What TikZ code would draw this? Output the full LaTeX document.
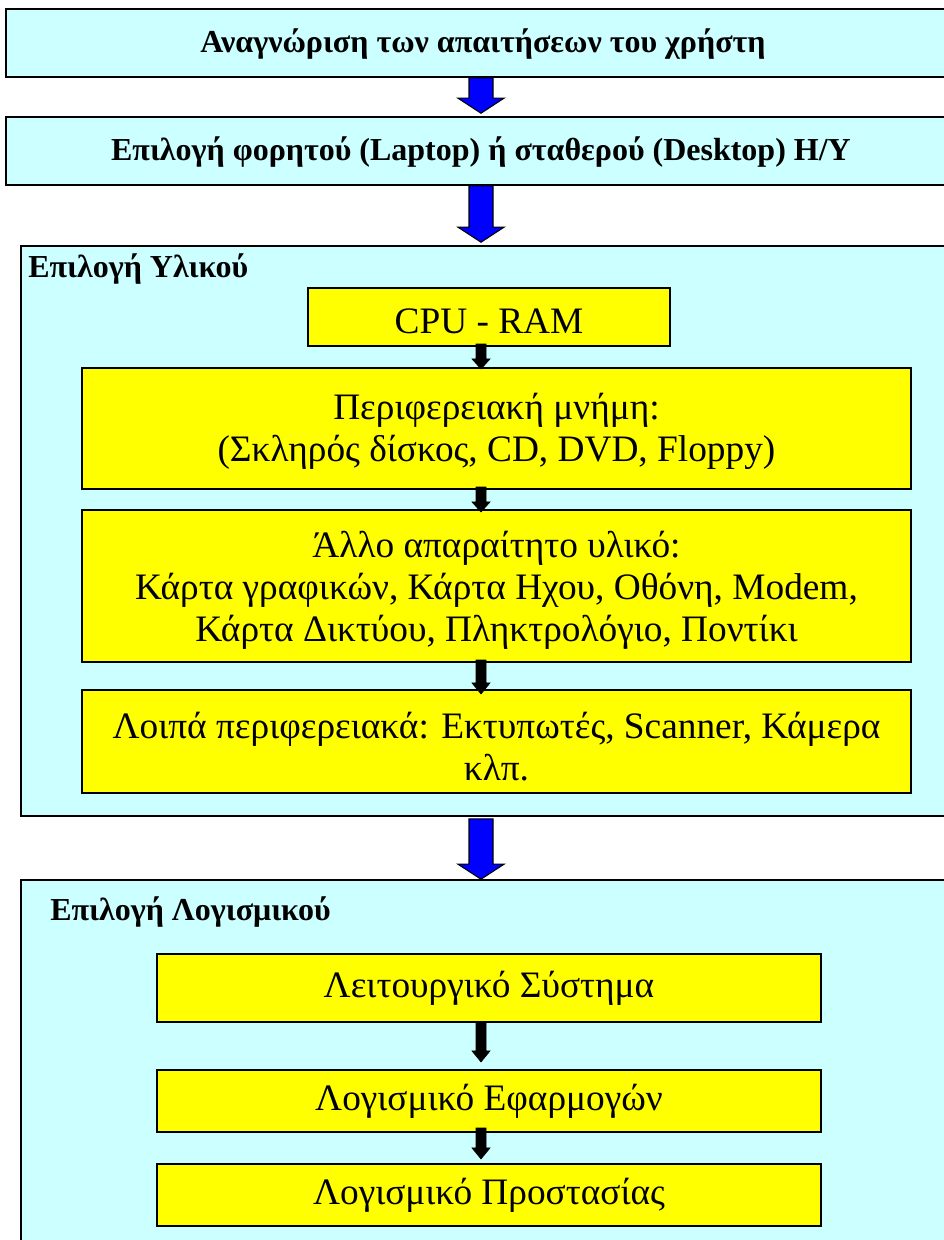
\documentclass[tikz,border=0pt]{standalone}
\usepackage{fontspec}
\setmainfont{Liberation Serif}
\usetikzlibrary{calc,fit}
\definecolor{lcyan}{HTML}{CCFFFF}
\definecolor{yel}{HTML}{FFFF00}
\newcommand\blockarr[8]{%
 \path[#1] ($(ax|-#2.south)+(-#4,#7)$) -- ($(ax|-#3.north)+(-#4,#8-#6)$) -- ($(ax|-#3.north)+(-#5,#8-#6)$) -- ($(ax|-#3.north)+(0,#8)$) -- ($(ax|-#3.north)+(#5,#8-#6)$) -- ($(ax|-#3.north)+(#4,#8-#6)$) -- ($(ax|-#2.south)+(#4,#7)$) -- cycle;}
\begin{document}
\begin{tikzpicture}[x=0.75pt,y=-0.75pt,
  outer/.style={draw=black,fill=lcyan,line width=1.2pt,inner sep=0pt},
  inner/.style={draw=black,fill=yel,line width=1.6pt,inner sep=0pt},
  btxt/.style={inner sep=0pt,font=\bfseries\fontsize{24}{28}\selectfont},
  ytxt/.style={inner sep=0pt,align=center,font=\fontsize{28}{31.5}\selectfont},
  hdr/.style={anchor=base west,inner sep=0pt,font=\bfseries\fontsize{24}{28}\selectfont},
  bluearr/.style={fill=blue,draw=black,line width=0.8pt},
  blackarr/.style={fill=black,draw=black,line width=0.5pt}]
\useasboundingbox (0,0) rectangle (944,1240);
\fill[white] (0,0) rectangle (944,1240);
\coordinate (ax) at (481,0);
\node[outer,fit={(6,9) (960,77)}] (b1) {};
\node[outer,fit={(6,117) (960,185)}] (b2) {};
\node[outer,fit={(21,246) (960,816)}] (hw) {};
\node[outer,fit={(21,880) (960,1260)}] (sw) {};
\node[btxt] (b1t) at (483,44) {Αναγνώριση των απαιτήσεων του χρήστη};
\node[btxt] (b2t) at (481,152) {Επιλογή φορητού (Laptop) ή σταθερού (Desktop) H/Y};
\node[hdr] (hwl) at (28,277) {Επιλογή Υλικού};
\node[hdr] (swl) at (50,920) {Επιλογή Λογισμικού};
\node[inner,fit={(308,288) (670,346)}] (cpu) {};
\node[inner,fit={(82,368) (911,489)}] (mem) {};
\node[inner,fit={(82,510) (911,662)}] (oth) {};
\node[inner,fit={(82,690) (911,793)}] (per) {};
\node[inner,fit={(157,954) (821,1022)}] (os) {};
\node[inner,fit={(157,1070) (821,1132)}] (app) {};
\node[inner,fit={(157,1164) (821,1226)}] (sec) {};
\node[ytxt] at ($(cpu.center)+(0,4)$) {CPU - RAM};
\node[ytxt] at ($(mem.center)+(0,3)$) {Περιφερειακή μνήμη:\\(Σκληρός δίσκος, CD, DVD, Floppy)};
\node[ytxt] at ($(oth.center)+(0,4)$) {Άλλο απαραίτητο υλικό:\\Κάρτα γραφικών, Κάρτα Ηχου, Οθόνη, Modem,\\Κάρτα Δικτύου, Πληκτρολόγιο, Ποντίκι};
\node[ytxt] at ($(per.center)+(0,5)$) {Λοιπά περιφερειακά: Εκτυπωτές, Scanner, Κάμερα\\κλπ.};
\node[ytxt] at (os.center) {Λειτουργικό Σύστημα};
\node[ytxt] at (app.center) {Λογισμικό Εφαρμογών};
\node[ytxt] at (sec.center) {Λογισμικό Προστασίας};
\blockarr{bluearr}{b1}{b2}{12}{23}{15}{0}{-3}
\blockarr{bluearr}{b2}{hw}{12}{23}{15}{0}{-3}
\blockarr{bluearr}{hw}{sw}{12}{23}{15}{2}{0}
\blockarr{blackarr}{cpu}{mem}{5}{9}{10}{-3}{2}
\blockarr{blackarr}{mem}{oth}{5}{9}{10}{-3}{3}
\blockarr{blackarr}{oth}{per}{5}{9}{11}{-3}{5}
\blockarr{blackarr}{os}{app}{5}{9}{11}{0}{-7}
\blockarr{blackarr}{app}{sec}{5}{9}{11}{-5}{-4}
\end{tikzpicture}
\end{document}
